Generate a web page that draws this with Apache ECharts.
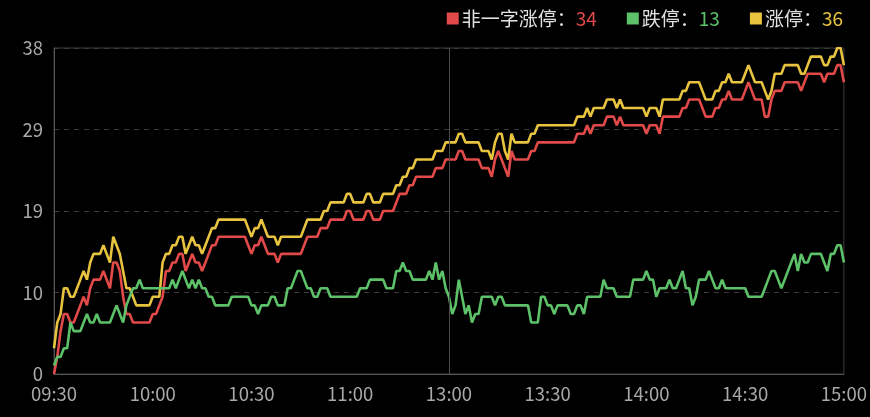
<!DOCTYPE html>
<html>
<head>
<meta charset="utf-8">
<script src="https://cdn.jsdelivr.net/npm/echarts@6/dist/echarts.min.js"></script>
<style>
html,body{margin:0;padding:0;background:#000;}
#c{width:870px;height:417px;}
</style>
</head>
<body>
<div id="c"></div>
<script>
// Time categories: morning 09:30-11:29, afternoon 13:00-15:00 (lunch collapsed)
function buildTimes(){
  const out=[];
  const push=(h,m)=>out.push((h<10?'0':'')+h+':'+(m<10?'0':'')+m);
  for(let t=9*60+30;t<11*60+30;t++) push(Math.floor(t/60),t%60);
  for(let t=13*60;t<=15*60;t++) push(Math.floor(t/60),t%60);
  return out;
}
const categories = buildTimes();
const seriesNames = ['非一字涨停','跌停','涨停'];
const seriesColors = ['#e24a4a','#5cc168','#e8c33f'];

const fyzZt = [0,2,5,7,7,6,6,7,8,9, 8,10,11,11,11,12,11,10,13,13, 12,9,7,7,6,6,6,6,6,6,
 7,7,8,9,12,12,13,13,14,14, 12,13,14,13,13,12,13,14,15,15, 16,16,16,16,16,16,16,16,16,15,
 14,15,15,16,15,14,14,14,13,14, 14,14,14,14,14,14,15,16,16,16, 16,17,17,17,18,18,18,18,18,19,
 19,18,18,18,18,19,19,18,18,18, 19,19,19,19,20,21,21,21,22,22, 23,23,23,23,23,23,24,24,24,25,
 25,25,25,26,26,25,25,25,25,25, 24,24,24,23,25,26,25,24,23,26, 25,25,25,25,25,26,26,27,27,27,
 27,27,27,27,27,27,27,27,27,28, 28,28,29,28,29,29,29,29,30,30, 30,29,30,29,29,29,29,29,29,29,
 28,29,29,29,28,30,30,30,30,30, 30,31,31,32,32,32,32,31,30,30, 30,31,31,32,32,33,32,32,32,32,
 33,34,33,32,32,32,30,30,32,33, 33,33,34,34,34,34,34,33,34,35, 35,35,35,35,34,35,35,35,36,36,
 34];
const dt = [1,2,2,3,3,6,5,5,5,6, 7,6,6,7,6,6,6,6,7,8, 7,6,8,9,10,10,11,10,10,10,
 10,10,10,10,10,10,11,10,11,12, 11,10,11,10,11,10,10,9,9,8, 8,8,8,8,9,9,9,9,9,9,
 8,8,7,8,8,8,9,9,8,8, 8,10,10,11,12,12,11,10,10,9, 9,10,10,10,9,9,9,9,9,9,
 9,9,9,10,10,10,11,11,11,11, 11,10,10,10,12,12,13,12,12,11, 11,11,11,11,12,11,13,11,12,10,
 9,7,8,11,9,7,8,6,7,7, 9,9,9,9,8,9,9,8,8,8, 8,8,8,8,8,6,6,6,9,9,
 8,8,7,8,8,8,8,7,7,8, 8,7,9,9,9,9,9,11,10,10, 10,9,9,9,9,9,11,11,11,11,
 12,11,11,9,10,10,10,11,10,10, 11,12,10,10,8,9,11,11,11,12, 11,10,10,11,10,10,10,10,10,10,
 10,9,9,9,9,9,10,11,12,12, 11,10,11,12,13,14,12,14,13,13, 14,14,14,14,13,12,14,14,15,15,
 13];
const zt = [3,6,7,10,10,9,9,10,11,12, 11,13,14,14,14,15,14,13,16,15, 14,12,10,10,9,8,8,8,8,8,
 9,9,9,13,14,14,15,15,16,16, 14,15,16,15,15,14,15,16,17,17, 18,18,18,18,18,18,18,18,18,17,
 16,17,17,18,17,16,16,16,15,16, 16,16,16,16,16,16,17,18,18,18, 18,18,19,19,20,20,20,20,20,21,
 21,20,20,20,20,21,21,20,20,20, 21,21,21,21,22,22,23,23,24,24, 25,25,25,25,25,25,26,26,26,27,
 27,27,27,28,28,27,27,27,27,27, 26,26,26,25,27,28,28,26,25,28, 27,27,27,27,27,28,28,29,29,29,
 29,29,29,29,29,29,29,29,29,30, 30,30,31,30,31,31,31,31,32,32, 32,31,32,31,31,31,31,31,31,31,
 30,31,31,31,30,32,32,32,32,32, 32,33,33,34,34,34,34,33,32,32, 32,33,33,34,34,35,34,34,34,34,
 35,36,35,34,34,34,33,32,33,35, 35,35,36,36,36,36,36,35,35,36, 37,37,37,37,36,36,37,37,38,38,
 36];
const yTickMin = 0, yTickMax = 38, yTickStep = 9.5;
const splitTime = '13:00';

const allData = [fyzZt, dt, zt];
const chart = echarts.init(document.getElementById('c'));
const FONT = 'Noto Sans CJK SC';
const rich = {n:{color:'#e0e0e0',fontSize:19,fontFamily:FONT}};
seriesColors.forEach((c,i)=>{rich['v'+i]={color:c,fontSize:19,fontFamily:FONT};});

chart.setOption({
  backgroundColor:'#000',
  animation:false,
  grid:{left:54,right:24,top:48,bottom:43,show:true,borderColor:'#3c3c3c',borderWidth:1,backgroundColor:'transparent'},
  legend:{
    right:22, top:4, itemWidth:12, itemHeight:12, itemGap:30, icon:'rect',
    data:seriesNames,
    formatter:function(name){
      const i=seriesNames.indexOf(name);
      const arr=allData[i];
      return '{n|'+name+'：}{v'+i+'|'+arr[arr.length-1]+'}';
    },
    textStyle:{rich:rich, padding:[0,0,0,-2]}
  },
  xAxis:{
    type:'category', data:categories, boundaryGap:false,
    axisLine:{lineStyle:{color:'#555'}},
    axisTick:{show:false},
    axisLabel:{color:'#a8a8a8',fontSize:18.5,fontFamily:FONT,margin:11,
      interval:function(idx){return idx%30===0;}},
    splitLine:{show:false}
  },
  yAxis:{
    type:'value', min:yTickMin, max:yTickMax, interval:yTickStep,
    axisLine:{show:true,lineStyle:{color:'#555'}},
    axisTick:{show:false},
    axisLabel:{color:'#a8a8a8',fontSize:18.5,fontFamily:FONT,margin:11,
      formatter:function(v){return String(Math.round(v));}},
    splitLine:{show:true,lineStyle:{color:'#3a3a3a',type:[5,5]}}
  },
  series:seriesNames.map((name,i)=>({
    name:name, type:'line', data:allData[i], showSymbol:false, symbol:'none',
    lineStyle:{width:2.6,color:seriesColors[i]}, itemStyle:{color:seriesColors[i]},
    z: i===1?3:(i===0?2:1),
    markLine: i===0 ? {silent:true, symbol:['none','none'], label:{show:false},
      lineStyle:{color:'#4a4a4a',type:'solid',width:1},
      data:[{xAxis:splitTime}]} : undefined
  }))
});
</script>
</body>
</html>
